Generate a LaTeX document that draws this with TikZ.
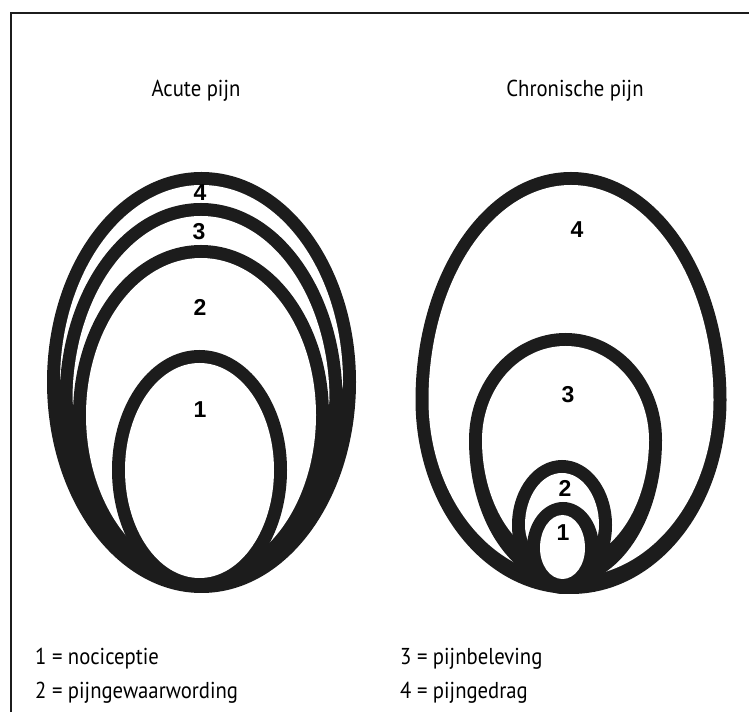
\documentclass[tikz,border=0pt]{standalone}
\usepackage{fontspec}
\setmainfont{PT Sans}[FakeStretch=0.9]
\newfontfamily\digitfont{Liberation Sans}
\definecolor{ink}{HTML}{1C1C1C}
\tikzset{
  ringfill/.style={fill=ink},
  holefill/.style={fill=white},
  title/.style={font=\fontsize{23}{26}\selectfont, anchor=base, inner sep=0pt},
  legend/.style={font=\fontsize{23}{26}\selectfont, anchor=base west, inner sep=0pt},
  ringnum/.style={font=\digitfont\bfseries\fontsize{23}{26}\selectfont, inner sep=0pt},
  frame/.style={line width=1.5pt, draw=ink}
}
% egg: style, cx, widest y, rx, top y, bottom y (pixel coordinates, y downwards)
\newcommand\egg[6]{%
  \fill[#1] ({#2-#4},{712-#3})
    arc[start angle=180, end angle=0, x radius=#4pt, y radius={(#3-#5)*1pt}]
    arc[start angle=0, end angle=-180, x radius=#4pt, y radius={(#6-#3)*1pt}] -- cycle;}
\begin{document}
\begin{tikzpicture}[x=1pt, y=1pt]
\useasboundingbox (0,0) rectangle (749,712);
% frame (top and left edges visible)
\draw[frame] (11,0) -- (11,699) -- (749,699);

% titles
\node[title] (tacute) at (196,{712-97}) {Acute pijn};
\node[title] (tchron) at (575,{712-97}) {Chronische pijn};

% ---- left diagram: acute pain ----
\egg{ringfill}{201.5}{382}{154.5}{172}{593}
\egg{holefill}{201.5}{382}{141.5}{185}{442}
\egg{ringfill}{201}{400}{141.5}{203}{592}
\egg{holefill}{201}{400}{128.5}{216}{450}
\egg{ringfill}{201}{415}{128}{245}{592}
\egg{holefill}{201}{415}{115}{258}{574}
\egg{ringfill}{199.5}{470}{87.5}{350}{592}
\egg{holefill}{199.5}{470}{74.5}{363}{578}

\node[ringnum] (a4) at (200,{712-193}) {4};
\node[ringnum] (a3) at (199,{712-232}) {3};
\node[ringnum] (a2) at (200,{712-307}) {2};
\node[ringnum] (a1) at (200,{712-410}) {1};

% ---- right diagram: chronic pain ----
\egg{ringfill}{571}{400}{155.5}{172}{594}
\egg{holefill}{571}{400}{142.5}{185}{577}
\egg{ringfill}{565.5}{440}{96.5}{333}{585}
\egg{holefill}{565.5}{440}{83.5}{346}{562}
\egg{ringfill}{562}{525}{50}{460}{592}
\egg{holefill}{562}{525}{37}{473}{566}
\egg{ringfill}{563}{548}{36}{502}{594}
\egg{holefill}{562.5}{548}{22.5}{515}{579}

\node[ringnum] (c4) at (577,{712-230}) {4};
\node[ringnum] (c3) at (568,{712-395}) {3};
\node[ringnum] (c2) at (565,{712-488}) {2};
\node[ringnum] (c1) at (563,{712-533}) {1};

% legend
\node[legend] (l1) at (35,{712-664}) {1 = nociceptie};
\node[legend] (l2) at (35,{712-698}) {2 = pijngewaarwording};
\node[legend] (l3) at (400,{712-664}) {3 = pijnbeleving};
\node[legend] (l4) at (400,{712-698}) {4 = pijngedrag};
\end{tikzpicture}
\end{document}
